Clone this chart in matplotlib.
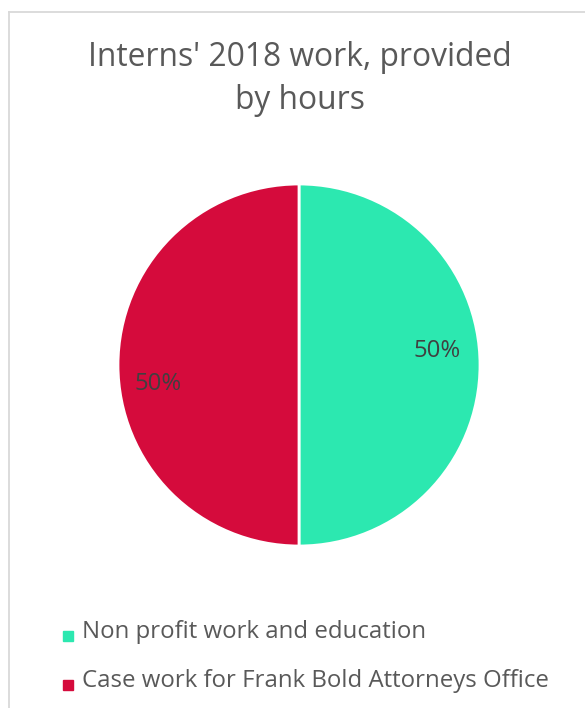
import matplotlib
matplotlib.use("Agg")
import matplotlib.pyplot as plt
from matplotlib.lines import Line2D

categories = ["Non profit work and education", "Case work for Frank Bold Attorneys Office"]
values = [50, 50]
colors = ["#2CE8B0", "#D50B3C"]
title = "Interns' 2018 work, provided\nby hours"

plt.rcParams['font.family'] = ['Open Sans', 'DejaVu Sans']

W, H = 585, 708
fig = plt.figure(figsize=(W / 100, H / 100), dpi=100)
fig.patch.set_facecolor("white")

# border (left & top visible)
fig.add_artist(Line2D([8.5 / W, 8.5 / W], [0, 1 - 11.5 / H], transform=fig.transFigure,
                      color="#d9d9d9", lw=1.3))
fig.add_artist(Line2D([8.5 / W, 1], [1 - 11.5 / H, 1 - 11.5 / H], transform=fig.transFigure,
                      color="#d9d9d9", lw=1.3))

cx, cy, r = 299, 365, 181
ax = fig.add_axes([(cx - r) / W, (H - cy - r) / H, 2 * r / W, 2 * r / H])
wedges, texts, autotexts = ax.pie(values, colors=colors, startangle=90, counterclock=False,
                                  autopct='%1.0f%%', radius=1,
                                  wedgeprops=dict(edgecolor="white", linewidth=2.0),
                                  textprops=dict(color="#404040", fontsize=17.2))
label_pos = [(0.762, 0.077), (-0.779, -0.105)]
for t, p in zip(autotexts, label_pos):
    t.set_position(p)
    t.set_ha("center")
    t.set_va("center")
ax.set_xlim(-1, 1)
ax.set_ylim(-1, 1)
ax.set_aspect("equal")
ax.axis("off")

fig.text(300 / W, 1 - 79 / H, title, ha="center", va="center", fontsize=22.9,
         color="#595959", linespacing=1.42)

# legend
rows_y = [632, 681]
for c, lab, y in zip(colors, categories, rows_y):
    fig.text(82 / W, 1 - y / H, lab, ha="left", va="center", fontsize=17.3, color="#595959")
    fig.add_artist(Line2D([67.5 / W], [1 - (y + 4) / H], transform=fig.transFigure,
                          marker="s", markersize=7.5, color=c, lw=0))

fig.savefig("out.png", dpi=100, facecolor="white")
